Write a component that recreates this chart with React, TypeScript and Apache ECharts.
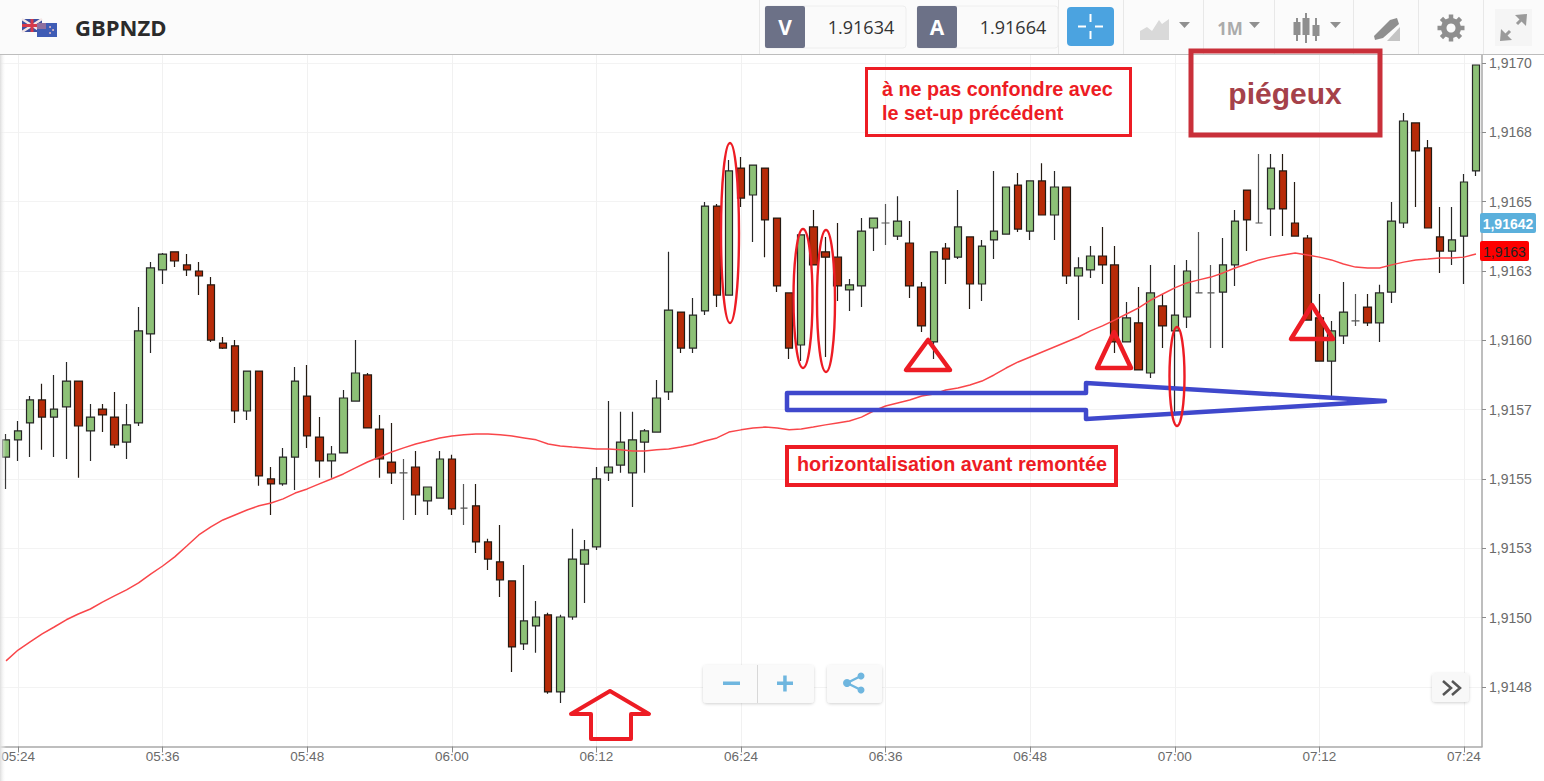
import React, { useEffect, useRef } from "react";
import * as echarts from "echarts";

// Prices are stored in millionths above 1.9 (15641 means 1.915641).
const opens = [
  15579,15641,15702,15785,15723,15760,15853,15673,15752,15723,
  15633,15702,16023,16254,16319,16272,16250,16200,15990,15980,
  15745,15889,15500,15482,15579,15799,15651,15565,15594,15781,
  15875,15680,15561,15522,15543,15421,15431,15572,15395,15403,
  15273,15201,15132,14905,14970,15010,14732,15002,15193,15255,
  15522,15550,15522,15633,15669,15814,16102,15972,16106,16484,
  16163,16621,16524,16621,16441,16171,15983,16409,16319,16300,
  16182,16196,16405,16423,16376,16351,16192,15994,16333,16300,
  16373,16203,16362,16383,16560,16394,16575,16452,16553,16232,
  16254,16304,16272,15994,16063,15882,16124,16034,16084,16171,
  16171,16174,16272,16542,16423,16474,16611,16423,16369,16081,
  15925,16016,16070,16120,16063,16174,16423,16784,16694,16373,
  16322,16376,16611,
];
const closes = [
  15641,15673,15785,15723,15752,15853,15691,15723,15731,15623,
  15695,16034,16261,16311,16286,16254,16232,16001,15972,15745,
  15889,15511,15482,15579,15853,15655,15565,15590,15792,15882,
  15684,15572,15522,15522,15442,15471,15572,15392,15395,15273,
  15211,15136,14894,14988,15002,14732,15002,15211,15244,15500,
  15543,15633,15641,15673,15792,16109,15972,16091,16484,16163,
  16611,16513,16632,16434,16196,15972,16380,16272,16300,16196,
  16200,16394,16441,16423,16430,16196,16052,16319,16293,16409,
  16203,16340,16394,16553,16401,16575,16452,16553,16232,16261,
  16304,16272,15994,16081,15893,16171,16052,16091,16250,16171,
  16171,16272,16430,16434,16423,16621,16474,16376,16073,15925,
  16034,16102,16070,16063,16171,16430,16791,16683,16405,16322,
  16362,16571,16993,
];
const lows = [
  15464,15565,15579,15605,15579,15572,15504,15565,15669,15612,
  15572,15691,15954,16203,16264,16232,16163,15994,15969,15702,
  15713,15475,15370,15475,15460,15612,15504,15504,15594,15781,
  15684,15504,15482,15352,15370,15370,15431,15370,15334,15233,
  15172,15074,14804,14883,14873,14725,14692,14992,15053,15244,
  15493,15522,15399,15522,15669,15785,15954,15954,16091,16120,
  16163,16481,16355,16300,16174,15933,15925,16272,15940,16142,
  16106,16120,16322,16344,16362,16153,16030,15933,16203,16293,
  16113,16142,16293,16383,16391,16362,16452,16362,16203,16073,
  16225,16203,15954,15994,15893,15864,15972,15738,16044,16171,
  15972,15972,16196,16322,16423,16376,16376,16376,16073,15925,
  15796,15987,16052,16052,15994,16135,16405,16481,16405,16243,
  16272,16203,16593,
];
const highs = [
  15662,15709,15799,15843,15875,15922,15853,15770,15770,15814,
  15770,16120,16282,16315,16319,16311,16282,16228,16012,16001,
  15889,15889,15543,15612,15904,15911,15723,15619,15821,16001,
  15882,15731,15702,15572,15601,15471,15601,15587,15482,15482,
  15284,15334,15132,15190,15060,15017,15010,15320,15280,15543,
  15781,15742,15742,15680,15857,16319,16102,16153,16499,16492,
  16650,16661,16632,16621,16441,16171,16380,16470,16373,16423,
  16221,16441,16441,16492,16520,16430,16210,16319,16351,16542,
  16373,16362,16611,16553,16603,16575,16639,16611,16553,16300,
  16340,16409,16340,16138,16192,16272,16167,16272,16290,16391,
  16272,16369,16470,16542,16672,16672,16672,16571,16380,16167,
  16070,16210,16167,16167,16200,16499,16820,16784,16722,16481,
  16481,16600,16993,
];
const movingAverage = [
  14844,14883,14912,14941,14966,14992,15013,15031,15056,15078,
  15100,15125,15157,15186,15219,15258,15298,15327,15352,15370,
  15388,15403,15413,15428,15449,15464,15482,15500,15518,15540,
  15561,15579,15597,15612,15626,15637,15648,15655,15659,15662,
  15662,15659,15655,15648,15641,15626,15619,15615,15612,15608,
  15608,15605,15601,15601,15605,15608,15615,15623,15637,15648,
  15669,15677,15684,15687,15684,15677,15680,15687,15695,15702,
  15709,15723,15745,15763,15774,15785,15799,15806,15821,15828,
  15839,15853,15875,15900,15922,15940,15958,15976,15994,16012,
  16034,16052,16073,16095,16117,16145,16167,16189,16207,16218,
  16228,16243,16261,16275,16290,16300,16308,16315,16308,16300,
  16290,16275,16264,16261,16261,16272,16282,16290,16293,16297,
  16297,16300,16311,
];
const yTicks = [1.917, 1.91675, 1.9165, 1.91625, 1.916, 1.91575, 1.9155, 1.91525, 1.915, 1.91475];
const yTickLabels = ["1,9170","1,9168","1,9165","1,9163","1,9160","1,9157","1,9155","1,9153","1,9150","1,9148"];
const firstMinute = 5 * 60 + 23;
const categories = opens.map((_, i) => {
  const t = firstMinute + i;
  return `${String(Math.floor(t / 60)).padStart(2, "0")}:${String(t % 60).padStart(2, "0")}`;
});

const toPrice = (v: number) => +(1.9 + v / 1e6).toFixed(6);
const candleData = opens.map((o, i) => [toPrice(o), toPrice(closes[i]), toPrice(lows[i]), toPrice(highs[i])]);
const maData = movingAverage.map(toPrice);

const RED = "#ed1c24";
const BLUE = "#3f48cc";
const GREY = "#8f8f8f";
const Z = 100;
const AF = '"Liberation Sans", Arial, sans-serif';
const OS = '"Open Sans", sans-serif';

const txt = (text: string, x: number, y: number, fill: string, font: string, align = "left") => ({
  type: "text", z: Z + 5, silent: true,
  style: { text, x, y, fill, font, textAlign: align, textVerticalAlign: "middle" },
});
const rect = (x: number, y: number, w: number, h: number, style: any, r = 0, z = Z) => ({
  type: "rect", z, silent: true, shape: { x, y, width: w, height: h, r }, style,
});
const line = (x1: number, y1: number, x2: number, y2: number, stroke: string, lineWidth = 1, z = Z) => ({
  type: "line", z, silent: true, shape: { x1, y1, x2, y2 }, style: { stroke, lineWidth },
});
const poly = (points: number[][], fill: string) => ({
  type: "polygon", z: Z + 1, silent: true, shape: { points }, style: { fill },
});
const outline = (points: number[][], stroke: string, lineWidth: number) => ({
  type: "polygon", z: Z + 4, silent: true, shape: { points },
  style: { fill: "none", stroke, lineWidth, lineJoin: "round" },
});
const ellipse = (cx: number, cy: number, rx: number, ry: number) => ({
  type: "ellipse", z: Z + 4, silent: true, shape: { cx, cy, rx, ry },
  style: { fill: "none", stroke: RED, lineWidth: 2.4 },
});
const circle = (cx: number, cy: number, r: number, fill: string) => ({
  type: "circle", z: Z + 2, silent: true, shape: { cx, cy, r }, style: { fill },
});
const caret = (x: number, y: number) => poly([[x, y], [x + 11, y], [x + 5.5, y + 6]], "#909090");

const gearTeeth = Array.from({ length: 8 }, (_, i) => {
  const a = (i * Math.PI) / 4;
  return line(1451 + 8 * Math.cos(a), 28 + 8 * Math.sin(a), 1451 + 13.5 * Math.cos(a), 28 + 13.5 * Math.sin(a), GREY, 4.5, Z + 1);
});

const softShadow = { shadowBlur: 3, shadowColor: "rgba(0,0,0,0.18)", shadowOffsetY: 1 };

const graphics: any[] = [
  // left edge shade and toolbar
  rect(0, 0, 6, 781, { fill: new echarts.graphic.LinearGradient(0, 0, 1, 0, [
    { offset: 0, color: "#dddddd" }, { offset: 1, color: "rgba(255,255,255,0)" },
  ]) }, 0, Z - 2),
  rect(0, 0, 1544, 54, { fill: "#fbfbfb" }, 0, Z - 1),
  line(0, 54.5, 1544, 54.5, "#bdbdbd", 1, Z),
  ...[759, 1058, 1123, 1203, 1274, 1353, 1418, 1483].map((x) => line(x + 0.5, 0, x + 0.5, 54, "#e8e8e8")),

  // flags
  rect(22, 19, 20, 13, { fill: "#3d4f9f" }, 0, Z + 1),
  line(22, 19, 42, 32, "#f3e6e6", 2.5, Z + 1),
  line(42, 19, 22, 32, "#f3e6e6", 2.5, Z + 1),
  line(32, 19, 32, 32, "#d5394a", 3, Z + 1),
  line(22, 25.5, 42, 25.5, "#d5394a", 3, Z + 1),
  rect(37, 23, 20, 14, { fill: "#3f5cb5" }, 0, Z + 2),
  rect(37, 23, 9, 6, { fill: "#8e6f9f" }, 0, Z + 2),
  circle(50, 27, 0.9, "#f4c6c6"), circle(53, 30, 0.9, "#f4c6c6"), circle(50, 33, 0.9, "#f4c6c6"),
  txt("GBPNZD", 75, 27, "#2b2b2b", `bold 22px ${OS}`),

  // quote boxes
  rect(765, 6, 141, 42, { fill: "#fafafa", stroke: "#eeeeee", lineWidth: 1 }, 3),
  rect(765, 6, 40, 42, { fill: "#6c7187" }, 2, Z + 1),
  txt("V", 785, 27, "#ffffff", `bold 21px ${OS}`, "center"),
  txt("1.91634", 861, 27, "#333333", `18px ${OS}`, "center"),
  rect(917, 6, 141, 42, { fill: "#fafafa", stroke: "#eeeeee", lineWidth: 1 }, 3),
  rect(917, 6, 40, 42, { fill: "#6c7187" }, 2, Z + 1),
  txt("A", 937, 27, "#ffffff", `bold 21px ${OS}`, "center"),
  txt("1.91664", 1013, 27, "#333333", `18px ${OS}`, "center"),

  // crosshair button
  rect(1067, 7, 47, 39, { fill: "#4ba3e0" }, 4, Z + 1),
  line(1078, 26.5, 1086, 26.5, "#ffffff", 2, Z + 2),
  line(1095, 26.5, 1103, 26.5, "#ffffff", 2, Z + 2),
  line(1090.5, 14, 1090.5, 22, "#ffffff", 2, Z + 2),
  line(1090.5, 31, 1090.5, 39, "#ffffff", 2, Z + 2),

  // chart type icon
  poly([[1140, 40], [1140, 31], [1147, 27], [1152, 31], [1159, 20], [1162, 24], [1169, 19], [1169, 40]], "#d9d9d9"),
  caret(1179, 22),
  txt("1M", 1230, 28, "#ababab", `bold 17px ${OS}`, "center"),
  caret(1249, 22),
  // candles icon
  ...[1297, 1306, 1316].map((x, i) => line(x, [18, 13, 18][i], x, [41, 43, 41][i], GREY, 2, Z + 1)),
  ...[1297, 1306, 1316].map((x, i) => rect(x - 3.5, [22, 18, 25][i], 7, [13, 17, 11][i], { fill: GREY }, 0, Z + 2)),
  caret(1330, 22),
  // drawing tool icon
  poly([[1374, 36], [1390, 20], [1397, 18], [1399, 24], [1383, 38], [1375, 40]], GREY),
  poly([[1387, 41], [1400, 27], [1400, 41]], "#c4c4c4"),
  // gear
  circle(1451, 28, 10, GREY),
  ...gearTeeth,
  circle(1451, 28, 4.5, "#fbfbfb"),
  // expand button
  rect(1495, 9, 37, 37, { fill: "#f5f5f5" }),
  line(1505, 36, 1510, 31, "#9a9a9a", 3, Z + 1),
  line(1517, 24, 1522, 19, "#9a9a9a", 3, Z + 1),
  poly([[1515, 15], [1527, 14], [1526, 26]], "#9a9a9a"),
  poly([[1512, 40], [1500, 41], [1501, 29]], "#9a9a9a"),

  // price tags
  rect(1480, 213, 56, 20, { fill: "#5bb0dc" }, 2, Z + 1),
  txt("1,91642", 1508, 223.5, "#ffffff", `bold 14px ${AF}`, "center"),
  rect(1480, 241, 49, 20, { fill: "#fe0000" }, 2, Z + 1),
  txt("1,9163", 1504.5, 251.5, "#222222", `14px ${AF}`, "center"),

  // zoom and share buttons
  rect(703, 665, 111, 38, { fill: "#fafafa", ...softShadow }, 4, Z + 1),
  line(757.5, 665, 757.5, 703, "#d8d8d8", 1, Z + 2),
  rect(723, 681.5, 17, 3.5, { fill: "#6fb6df" }, 0, Z + 2),
  rect(777, 681.5, 16, 3.5, { fill: "#6fb6df" }, 0, Z + 2),
  rect(783.2, 675.5, 3.5, 16, { fill: "#6fb6df" }, 0, Z + 2),
  rect(827, 665, 55, 38, { fill: "#fafafa", ...softShadow }, 4, Z + 1),
  line(847, 683, 861, 676, "#6fb6df", 2.5, Z + 2),
  line(847, 683, 861, 690, "#6fb6df", 2.5, Z + 2),
  circle(847, 683, 4, "#6fb6df"),
  circle(861, 676, 3.5, "#6fb6df"),
  circle(861, 690, 3.5, "#6fb6df"),

  // scroll-to-end button
  rect(1432, 673, 37, 29, { fill: "#f8f8f8", ...softShadow }, 4, Z + 1),
  { type: "polyline", z: Z + 2, silent: true, shape: { points: [[1443, 681], [1451, 688], [1443, 695]] }, style: { fill: "none", stroke: "#555555", lineWidth: 2.5 } },
  { type: "polyline", z: Z + 2, silent: true, shape: { points: [[1452, 681], [1460, 688], [1452, 695]] }, style: { fill: "none", stroke: "#555555", lineWidth: 2.5 } },

  // hand-drawn annotations
  rect(866.5, 68.5, 264, 67, { fill: "none", stroke: RED, lineWidth: 3 }, 0, Z + 4),
  txt("à ne pas confondre avec", 882, 89, RED, `bold 19.8px ${AF}`),
  txt("le set-up précédent", 882, 113, RED, `bold 19.8px ${AF}`),
  rect(1191, 51, 189, 84, { fill: "none", stroke: "#c9303a", lineWidth: 5 }, 0, Z + 4),
  txt("piégeux", 1285, 93, "#a5414a", `bold 30px ${AF}`, "center"),
  rect(787, 447, 329, 38, { fill: "none", stroke: RED, lineWidth: 4 }, 0, Z + 4),
  txt("horizontalisation avant remontée", 797, 464, RED, `bold 19.8px ${AF}`),
  outline([[610, 691], [649, 714], [631, 714], [631, 739], [591, 739], [591, 714], [571, 714]], RED, 4),
  outline([[787, 393], [1086, 393], [1086, 383], [1385, 401], [1086, 419], [1086, 410], [787, 410]], BLUE, 4.5),
  ellipse(730, 233, 9, 90),
  ellipse(803, 298.5, 9.5, 69.5),
  ellipse(826, 301, 9, 71),
  ellipse(1177, 376.5, 7.5, 49.5),
  outline([[928, 340], [906, 370], [950, 370]], RED, 4.5),
  outline([[1114, 332], [1097, 368], [1131, 368]], RED, 4.5),
  outline([[1312, 305], [1291, 339], [1333, 339]], RED, 4.5),
];

export default function App() {
  const ref = useRef<HTMLDivElement>(null);
  useEffect(() => {
    const chart = echarts.init(ref.current!, undefined, { renderer: "svg" });
    const onTick = (i: number) => (i - 1) % 12 === 0;
    chart.setOption({
      animation: false,
      backgroundColor: "#ffffff",
      grid: { left: 0, top: 55, width: 1482, height: 691.5, containLabel: false, outerBoundsMode: "none" },
      xAxis: {
        type: "category",
        data: categories,
        boundaryGap: true,
        axisLine: { show: true, onZero: false, lineStyle: { color: "#a9a9a9", width: 1.5 } },
        axisTick: { show: true, alignWithLabel: true, interval: onTick, length: 6, lineStyle: { color: "#8a8a8a" } },
        axisLabel: { show: true, interval: onTick, color: "#6a6a6a", fontFamily: AF, fontSize: 13.5, margin: 3 },
        splitLine: { show: true, alignWithLabel: true, interval: onTick, lineStyle: { color: "#f1f1f1", width: 1 } },
      },
      yAxis: {
        type: "value",
        position: "right",
        min: 1.914535,
        max: 1.917029,
        scale: true,
        axisLine: { show: true, lineStyle: { color: "#a9a9a9", width: 1.5 } },
        axisTick: { show: true, length: 4, customValues: yTicks, lineStyle: { color: "#8a8a8a" } },
        axisLabel: {
          show: true, customValues: yTicks, color: "#6a6a6a", fontFamily: AF, fontSize: 14, margin: 7,
          formatter: (v: number) => {
            const i = yTicks.findIndex((t) => Math.abs(t - v) < 1e-7);
            return i >= 0 ? yTickLabels[i] : "";
          },
        },
        splitLine: { show: true, lineStyle: { color: "#f3f3f3", width: 1 } },
      },
      series: [
        {
          type: "candlestick",
          name: "GBPNZD",
          data: candleData,
          barWidth: 8,
          z: 3,
          itemStyle: {
            color: "#8dc177", color0: "#b72b08",
            borderColor: "#262626", borderColor0: "#241a12", borderColorDoji: "#555555", borderWidth: 1.2,
          },
        },
        {
          type: "line",
          name: "MA",
          data: maData,
          showSymbol: false,
          symbol: "none",
          z: 4,
          lineStyle: { color: "#f9464a", width: 1.5 },
        },
      ],
      graphic: { elements: graphics },
    });
    return () => chart.dispose();
  }, []);
  return <div ref={ref} style={{ position: "fixed", left: 0, top: 0, width: 1544, height: 781 }} />;
}
